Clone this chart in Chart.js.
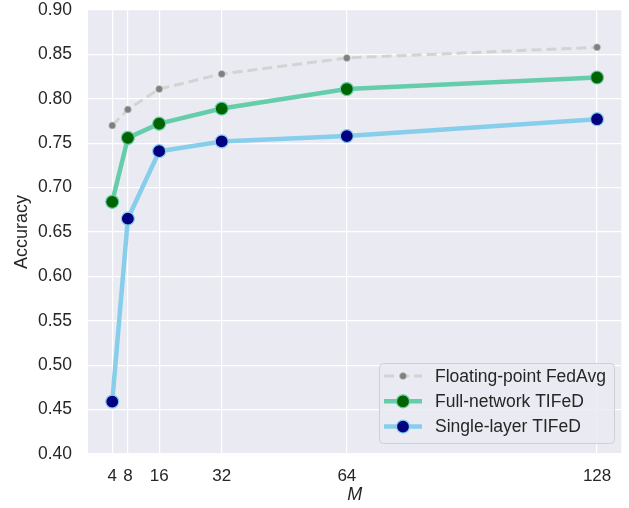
<!DOCTYPE html>
<html>
<head>
    <title>Accuracy vs M</title>
    <script src="https://cdn.jsdelivr.net/npm/chart.js"></script>
    <style>
        body { margin: 0; padding: 0; background: #fff; }
        #wrap { width: 629px; height: 508px; }
    </style>
</head>
<body>
    <div id="wrap"><canvas id="accChart" width="629" height="508"></canvas></div>

    <script>
        const mValues = [4, 8, 16, 32, 64, 128];
        const fedAvg = [0.770, 0.788, 0.811, 0.828, 0.846, 0.858];
        const fullNetwork = [0.684, 0.756, 0.772, 0.789, 0.811, 0.824];
        const singleLayer = [0.459, 0.665, 0.741, 0.752, 0.758, 0.777];
        const yTicks = [0.40, 0.45, 0.50, 0.55, 0.60, 0.65, 0.70, 0.75, 0.80, 0.85, 0.90];

        const FONT = "'Liberation Sans', Arial, sans-serif";
        const TEXT = '#262626';

        const toPoints = vals => vals.map((v, i) => ({ x: mValues[i], y: v }));

        // seaborn-ish grey plot background
        const plotBg = {
            id: 'plotBg',
            beforeDraw(chart) {
                const { ctx, chartArea: a } = chart;
                ctx.save();
                ctx.fillStyle = '#EAEAF2';
                ctx.fillRect(a.left, a.top, a.right - a.left, a.bottom - a.top);
                ctx.restore();
            }
        };

        // legend drawn inside the plot, lower right
        const innerLegend = {
            id: 'innerLegend',
            afterDatasetsDraw(chart) {
                const ctx = chart.ctx;
                const x0 = 379, y0 = 363, w = 235, h = 80;
                ctx.save();
                ctx.beginPath();
                ctx.roundRect(x0 + 0.5, y0 + 0.5, w, h, 4);
                ctx.fillStyle = 'rgba(234,234,242,0.85)';
                ctx.fill();
                ctx.strokeStyle = '#cfcfd6';
                ctx.lineWidth = 1;
                ctx.stroke();
                chart.data.datasets.forEach((ds, i) => {
                    const y = 376 + i * 25.3;
                    ctx.beginPath();
                    ctx.setLineDash(ds.borderDash || []);
                    ctx.strokeStyle = ds.borderColor;
                    ctx.lineWidth = ds.borderWidth;
                    ctx.moveTo(384, y);
                    ctx.lineTo(422, y);
                    ctx.stroke();
                    ctx.setLineDash([]);
                    ctx.beginPath();
                    ctx.arc(403, y, ds.pointRadius, 0, Math.PI * 2);
                    ctx.fillStyle = ds.pointBackgroundColor;
                    ctx.fill();
                    if (ds.pointBorderWidth) {
                        ctx.strokeStyle = ds.pointBorderColor;
                        ctx.lineWidth = ds.pointBorderWidth;
                        ctx.stroke();
                    }
                    ctx.fillStyle = TEXT;
                    ctx.font = '17.5px ' + FONT;
                    ctx.textBaseline = 'middle';
                    ctx.fillText(ds.label, 435, y + 1);
                });
                ctx.restore();
            }
        };

        new Chart(document.getElementById('accChart'), {
            type: 'line',
            data: {
                datasets: [
                    {
                        label: 'Floating-point FedAvg',
                        data: toPoints(fedAvg),
                        borderColor: '#D3D3D3',
                        borderWidth: 3,
                        borderDash: [10, 5],
                        pointRadius: 3.5,
                        pointBackgroundColor: '#808080',
                        pointBorderColor: '#D3D3D3',
                        pointBorderWidth: 0.5
                    },
                    {
                        label: 'Full-network TIFeD',
                        data: toPoints(fullNetwork),
                        borderColor: '#66CDAA',
                        borderWidth: 4.5,
                        pointRadius: 6.5,
                        pointBackgroundColor: '#006400',
                        pointBorderColor: '#66CDAA',
                        pointBorderWidth: 1.2
                    },
                    {
                        label: 'Single-layer TIFeD',
                        data: toPoints(singleLayer),
                        borderColor: '#87CEEB',
                        borderWidth: 4.5,
                        pointRadius: 6.5,
                        pointBackgroundColor: '#000080',
                        pointBorderColor: '#87CEEB',
                        pointBorderWidth: 1.2
                    }
                ]
            },
            options: {
                responsive: false,
                animation: false,
                layout: { padding: { top: 10, right: 7, left: 0, bottom: 0 } },
                plugins: {
                    legend: { display: false },
                    tooltip: { enabled: false }
                },
                scales: {
                    x: {
                        type: 'linear',
                        min: -2.2,
                        max: 134.2,
                        afterBuildTicks(scale) {
                            scale.ticks = mValues.map(v => ({ value: v }));
                        },
                        afterFit(scale) {
                            scale.height = 54;
                            scale.paddingLeft = 0;
                            scale.paddingRight = 0;
                        },
                        grid: { color: '#ffffff', lineWidth: 1.2, drawTicks: false },
                        border: { display: false },
                        ticks: {
                            color: TEXT,
                            font: { family: FONT, size: 17 },
                            padding: 12,
                            maxRotation: 0,
                            autoSkip: false,
                            callback: v => String(v)
                        },
                        title: {
                            display: true,
                            text: 'M',
                            color: TEXT,
                            font: { family: FONT, size: 18, style: 'italic' },
                            padding: { top: 4, bottom: 2 }
                        }
                    },
                    y: {
                        min: 0.40,
                        max: 0.90,
                        afterBuildTicks(scale) {
                            scale.ticks = yTicks.map(v => ({ value: v }));
                        },
                        afterFit(scale) {
                            scale.width = 88;
                            scale.paddingTop = 0;
                            scale.paddingBottom = 0;
                        },
                        grid: { color: '#ffffff', lineWidth: 1.2, drawTicks: false },
                        border: { display: false },
                        ticks: {
                            color: TEXT,
                            font: { family: FONT, size: 17.5 },
                            padding: 16,
                            callback: v => v.toFixed(2)
                        },
                        title: {
                            display: true,
                            text: 'Accuracy',
                            color: TEXT,
                            font: { family: FONT, size: 18 },
                            padding: { top: 11, bottom: 0 }
                        }
                    }
                }
            },
            plugins: [plotBg, innerLegend]
        });
    </script>
</body>
</html>
